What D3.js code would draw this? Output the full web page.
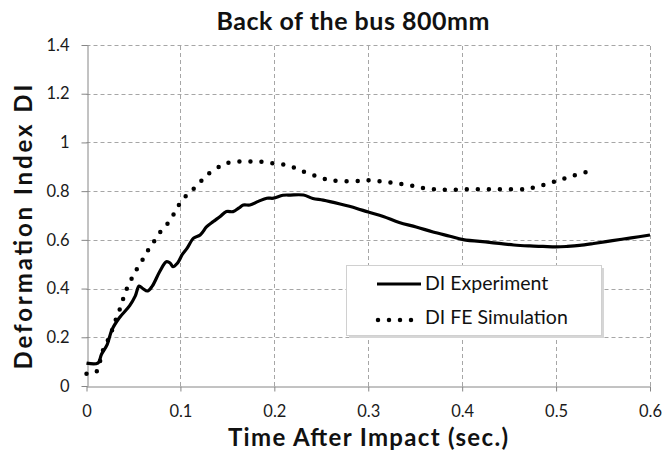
<!DOCTYPE html>
<html>
<head>
    <meta charset="utf-8">
    <style>
        body {
            margin: 0;
            background: white;
            font-family: Lato, 'Open Sans', sans-serif;
        }

        svg {
            display: block;
        }

        .grid line {
            stroke: #a6a6a6;
            stroke-width: 1;
            stroke-dasharray: 4, 3;
        }

        .axis .domain,
        .axis .tick line {
            stroke: #868686;
        }

        .axis .tick text {
            font-size: 16.5px;
            fill: #1a1a1a;
            font-family: Lato, sans-serif;
        }

        .title {
            font-size: 25px;
            font-weight: bold;
            fill: #111;
        }

        .axis-label {
            font-size: 24px;
            font-weight: bold;
            fill: #111;
        }

        .legend text {
            font-size: 19.5px;
            fill: #111;
        }
    </style>
</head>
<body>
    <svg width="669" height="451"></svg>

<script src="https://d3js.org/d3.v7.min.js"></script>
<script>
    // experiment curve (solid)
    let expTime = [0, 0.012, 0.016, 0.022, 0.027, 0.035, 0.046, 0.052, 0.056, 0.060, 0.065, 0.070, 0.078, 0.085, 0.089, 0.092, 0.097, 0.102, 0.107, 0.114, 0.121, 0.128, 0.135, 0.142, 0.149, 0.156, 0.162, 0.167, 0.174, 0.183, 0.192, 0.199, 0.209, 0.217, 0.231, 0.241, 0.252, 0.270, 0.287, 0.30, 0.316, 0.333, 0.351, 0.369, 0.387, 0.401, 0.429, 0.455, 0.472, 0.486, 0.5, 0.512, 0.525, 0.54, 0.56, 0.58, 0.6];
    let expDI = [0.094, 0.094, 0.13, 0.17, 0.23, 0.28, 0.33, 0.37, 0.41, 0.40, 0.39, 0.41, 0.47, 0.51, 0.505, 0.49, 0.505, 0.54, 0.565, 0.607, 0.62, 0.654, 0.675, 0.695, 0.716, 0.716, 0.73, 0.743, 0.743, 0.758, 0.771, 0.771, 0.783, 0.784, 0.784, 0.770, 0.763, 0.747, 0.730, 0.714, 0.696, 0.671, 0.653, 0.632, 0.615, 0.601, 0.590, 0.579, 0.575, 0.573, 0.571, 0.573, 0.577, 0.585, 0.597, 0.608, 0.62];

    // FE simulation curve (dotted)
    let simTime = [0, 0.010, 0.014, 0.017, 0.023, 0.027, 0.031, 0.035, 0.039, 0.043, 0.048, 0.054, 0.060, 0.066, 0.073, 0.080, 0.088, 0.094, 0.100, 0.108, 0.117, 0.125, 0.134, 0.144, 0.150, 0.161, 0.173, 0.185, 0.197, 0.209, 0.220, 0.231, 0.243, 0.255, 0.267, 0.29, 0.302, 0.314, 0.326, 0.338, 0.350, 0.361, 0.373, 0.385, 0.40, 0.43, 0.468, 0.480, 0.492, 0.504, 0.515, 0.527, 0.542];
    let simDI = [0.05, 0.056, 0.096, 0.141, 0.19, 0.227, 0.27, 0.31, 0.357, 0.40, 0.44, 0.483, 0.52, 0.56, 0.60, 0.64, 0.675, 0.713, 0.753, 0.789, 0.82, 0.853, 0.884, 0.905, 0.915, 0.921, 0.922, 0.921, 0.915, 0.91, 0.898, 0.88, 0.864, 0.849, 0.842, 0.842, 0.845, 0.840, 0.834, 0.828, 0.820, 0.811, 0.807, 0.805, 0.807, 0.808, 0.809, 0.818, 0.832, 0.846, 0.86, 0.873, 0.887];

    let xTicks = [0, 0.1, 0.2, 0.3, 0.4, 0.5, 0.6];
    let yTicks = [0, 0.2, 0.4, 0.6, 0.8, 1, 1.2, 1.4];
    let seriesNames = ["DI Experiment", "DI FE Simulation"];

    let svg = d3.select("svg");

    let margin = { top: 45, right: 19, bottom: 65, left: 86.5 };
    let width = 669, height = 451;

    let x = d3.scaleLinear()
        .domain([0, 0.6])
        .range([margin.left, width - margin.right]);

    let y = d3.scaleLinear()
        .domain([0, 1.4])
        .range([height - margin.bottom, margin.top]);

    // gridlines
    let grid = svg.append("g").attr("class", "grid");
    grid.selectAll(".h")
        .data(yTicks.filter(d => d > 0))
        .join("line")
        .attr("x1", x(0)).attr("x2", x(0.6))
        .attr("y1", d => Math.round(y(d)) + 0.5).attr("y2", d => Math.round(y(d)) + 0.5);
    grid.selectAll(".v")
        .data(xTicks.filter(d => d > 0))
        .join("line")
        .attr("x1", d => Math.round(x(d)) + 0.5).attr("x2", d => Math.round(x(d)) + 0.5)
        .attr("y1", y(0)).attr("y2", y(1.4));

    // axes
    let xAxis = d3.axisBottom(x)
        .tickValues(xTicks)
        .tickFormat(d3.format("~g"))
        .tickSize(5)
        .tickSizeOuter(0)
        .tickPadding(14);

    let yAxis = d3.axisLeft(y)
        .tickValues(yTicks)
        .tickFormat(d3.format("~g"))
        .tickSize(6)
        .tickSizeOuter(0)
        .tickPadding(12);

    svg.append("g")
        .attr("class", "x axis")
        .attr("transform", `translate(0,${Math.round(y(0)) + 0.5})`)
        .call(xAxis);

    svg.append("g")
        .attr("class", "y axis")
        .attr("transform", `translate(${Math.round(x(0)) + 0.5},0)`)
        .call(yAxis);

    // lines
    let expData = expTime.map((t, i) => ({ t: t, v: expDI[i] }));
    let simData = simTime.map((t, i) => ({ t: t, v: simDI[i] }));

    let line = d3.line()
        .x(d => x(d.t))
        .y(d => y(d.v))
        .curve(d3.curveCatmullRom.alpha(0.5));

    svg.append("path")
        .datum(simData)
        .attr("d", line)
        .style("fill", "none")
        .style("stroke", "black")
        .style("stroke-width", 4.5)
        .style("stroke-linecap", "round")
        .style("stroke-dasharray", "0,11");

    svg.append("path")
        .datum(expData)
        .attr("d", line)
        .style("fill", "none")
        .style("stroke", "black")
        .style("stroke-width", 3.2)
        .style("stroke-linejoin", "round");

    // titles
    svg.append("text")
        .attr("class", "title")
        .attr("x", 353)
        .attr("y", 30)
        .attr("text-anchor", "middle")
        .attr("textLength", 273)
        .text("Back of the bus 800mm");

    svg.append("text")
        .attr("class", "axis-label")
        .attr("x", 368)
        .attr("y", 446)
        .attr("text-anchor", "middle")
        .attr("textLength", 280)
        .text("Time After Impact (sec.)");

    svg.append("text")
        .attr("class", "axis-label")
        .attr("transform", "translate(32,227) rotate(-90)")
        .attr("text-anchor", "middle")
        .attr("textLength", 285)
        .text("Deformation Index DI");

    // legend
    let legend = svg.append("g").attr("class", "legend");

    legend.append("rect")
        .attr("x", 349).attr("y", 268)
        .attr("width", 255).attr("height", 70)
        .style("fill", "#d6d6d6");

    legend.append("rect")
        .attr("x", 346.5).attr("y", 265.5)
        .attr("width", 255).attr("height", 70)
        .style("fill", "white")
        .style("stroke", "#d0d0d0");

    legend.append("line")
        .attr("x1", 377).attr("x2", 421)
        .attr("y1", 284).attr("y2", 284)
        .style("stroke", "black")
        .style("stroke-width", 3.2);

    legend.append("line")
        .attr("x1", 378).attr("x2", 412)
        .attr("y1", 320).attr("y2", 320)
        .style("stroke", "black")
        .style("stroke-width", 4.5)
        .style("stroke-linecap", "round")
        .style("stroke-dasharray", "0,11");

    legend.selectAll(".lab")
        .data(seriesNames)
        .join("text")
        .attr("x", 425)
        .attr("y", (d, i) => 290 + i * 34)
        .text(d => d);
</script>
</body>
</html>
